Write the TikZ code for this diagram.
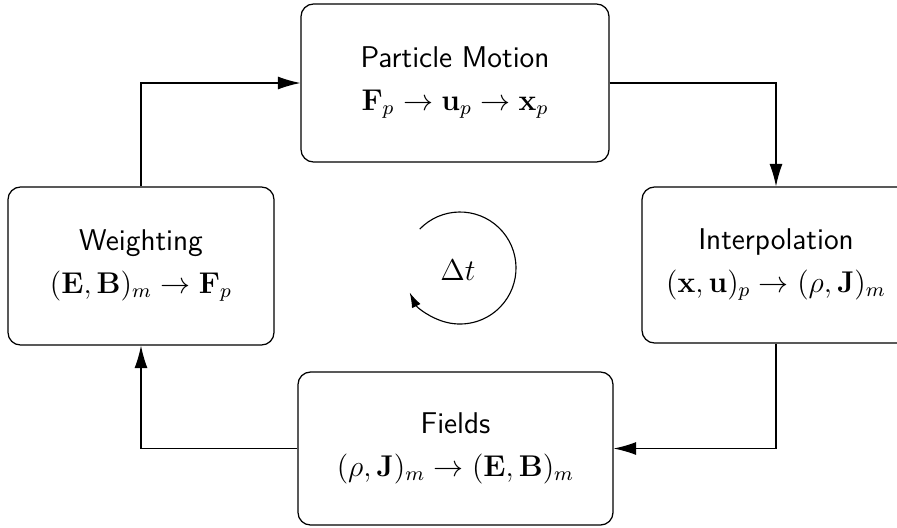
\documentclass[tikz,border=0pt]{standalone}
\usetikzlibrary{arrows.meta}
\begin{document}
\begin{tikzpicture}[x=0.4pt,y=-0.4pt,
  stage/.style={draw, line width=0.5pt, rounded corners=5pt, align=center,
    inner sep=0pt, font=\large\sffamily},
  flow/.style={draw, line width=0.45pt, -{Latex[length=9pt,width=5.2pt]}},
  loop/.style={draw, line width=0.45pt, -{Latex[length=6pt,width=3.8pt]}}]
\clip (0,0) rectangle (897,527);
\useasboundingbox (0,0) rectangle (897,527);
\node[stage, minimum width=123.2pt, minimum height=63.2pt] (P) at (455,83)
  {Particle Motion\\[3pt] $\mathbf{F}_p \rightarrow \mathbf{u}_p \rightarrow \mathbf{x}_p$};
\node[stage, minimum width=106.4pt, minimum height=63.2pt] (W) at (141,266)
  {Weighting\\[3pt] $(\mathbf{E},\mathbf{B})_m \rightarrow \mathbf{F}_p$};
\node[stage, minimum width=107.2pt, minimum height=62.4pt] (I) at (776,265)
  {Interpolation\\[3pt] $(\mathbf{x},\mathbf{u})_p \rightarrow (\rho,\mathbf{J})_m$};
\node[stage, minimum width=126pt, minimum height=61.2pt] (F) at (455.5,448.5)
  {Fields\\[3pt] $(\rho,\mathbf{J})_m \rightarrow (\mathbf{E},\mathbf{B})_m$};
\draw[flow] (W.north) |- (P.west);
\draw[flow] (P.east) -| (I.north);
\draw[flow] (I.south) |- (F.east);
\draw[flow] (F.west) -| (W.south);
\coordinate (C) at (460,268);
\node[font=\large] (dt) at (458,270) {$\Delta t$};
\draw[loop] ([shift={(136:22.4pt)}]C) arc[start angle=136, end angle=-154, radius=22.4pt];
\end{tikzpicture}
\end{document}
